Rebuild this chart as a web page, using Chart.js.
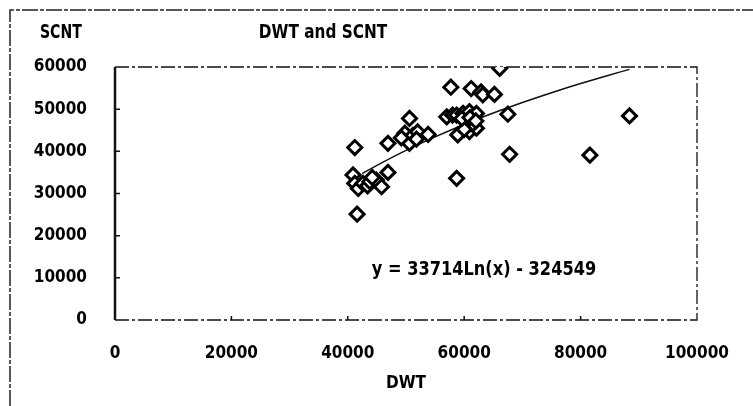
<!DOCTYPE html>
<html>
<head>
<meta charset="utf-8">
<script src="https://cdn.jsdelivr.net/npm/chart.js@4.4.1/dist/chart.umd.min.js"></script>
<style>
  html, body { margin: 0; padding: 0; background: #fff; }
</style>
</head>
<body>
<canvas id="chart" width="753" height="406"></canvas>
<script>
// DWT / SCNT points
var dwt = [
  41200, 41600, 40900, 41200, 41800, 42600, 43400, 43800, 44900, 45800, 46900, 44200,
  46900, 49800, 50600, 50600, 51200, 52000, 53800, 49200, 51800,
  57000, 58000, 58700, 59800, 60900, 62100, 58900, 60900, 62100, 61500, 60000, 59600, 61000, 62000,
  57700, 61200, 62900, 63200, 65200, 66100,
  67500, 67800, 58700, 88400, 81600
];
var scnt = [
  40900, 25100, 34400, 32400, 31200, 32400, 31800, 32800, 33200, 31600, 35000, 33800,
  41900, 44300, 47800, 41900, 43800, 44600, 44000, 43200, 42900,
  48200, 48600, 48600, 49000, 49400, 49000, 43900, 44700, 45500, 46500, 45200, 47800, 48000, 47200,
  55200, 54900, 54100, 53400, 53500, 59700,
  48800, 39300, 33600, 48400, 39100
];

// trend line as printed on the chart: y = 33714Ln(x) - 324549
var trendA = 33714;
var trendB = -324549;
var trendX = [42500, 45000, 50000, 55000, 60000, 65000, 70000, 75000, 80000, 85000, 88400];

var xTicks = [0, 20000, 40000, 60000, 80000, 100000];
var yTicks = [0, 10000, 20000, 30000, 40000, 50000, 60000];

var FONT = "'Liberation Sans Narrow', 'DejaVu Sans Condensed', 'Liberation Sans', sans-serif";

var points = [];
for (var i = 0; i < dwt.length; i++) {
  points.push({ x: dwt[i], y: scnt[i] });
}
var trend = [];
for (var j = 0; j < trendX.length; j++) {
  trend.push({ x: trendX[j], y: trendA * Math.log(trendX[j]) + trendB });
}

// condensed looking text: squeeze horizontally
function narrowText(ctx, txt, x, y, sx) {
  ctx.save();
  ctx.translate(x, y);
  ctx.scale(sx, 1);
  ctx.fillText(txt, 0, 0);
  ctx.restore();
}

// frame, tick marks and the free texts
var decor = {
  id: "decor",
  beforeDatasetsDraw: function(chart) {
    var ctx = chart.ctx;
    var a = chart.chartArea;
    var xs = chart.scales.x, ys = chart.scales.y;
    ctx.save();
    ctx.strokeStyle = "#222";
    // outer frame (scanned page edge)
    ctx.lineWidth = 1.5;
    ctx.setLineDash([16, 2, 4, 2]);
    ctx.beginPath();
    ctx.moveTo(10, chart.height);
    ctx.lineTo(10, 10);
    ctx.lineTo(chart.width, 10);
    ctx.stroke();
    // plot frame
    ctx.strokeStyle = "#111";
    ctx.lineWidth = 1.3;
    ctx.setLineDash([14, 3, 3, 3]);
    ctx.beginPath();
    ctx.moveTo(a.left, a.top);
    ctx.lineTo(a.right, a.top);
    ctx.lineTo(a.right, a.bottom);
    ctx.lineTo(a.left, a.bottom);
    ctx.stroke();
    ctx.setLineDash([]);
    ctx.lineWidth = 2.5;
    ctx.beginPath();
    ctx.moveTo(a.left, a.top);
    ctx.lineTo(a.left, a.bottom);
    ctx.stroke();
    ctx.lineWidth = 1.5;
    ctx.beginPath();
    for (var i = 1; i < yTicks.length - 1; i++) {
      var py = ys.getPixelForValue(yTicks[i]);
      ctx.moveTo(a.left, py);
      ctx.lineTo(a.left + 5, py);
    }
    for (var k = 1; k < xTicks.length - 1; k++) {
      var px = xs.getPixelForValue(xTicks[k]);
      ctx.moveTo(px, a.bottom);
      ctx.lineTo(px, a.bottom - 4);
    }
    ctx.stroke();
    ctx.restore();
  },
  afterDraw: function(chart) {
    var ctx = chart.ctx;
    var xs = chart.scales.x, ys = chart.scales.y;
    ctx.save();
    ctx.fillStyle = "#000";
    ctx.font = "bold 20px " + FONT;
    ctx.textBaseline = "middle";
    ctx.textAlign = "left";
    narrowText(ctx, "SCNT", 40, 33, 0.78);
    ctx.textAlign = "center";
    narrowText(ctx, "DWT and SCNT", 323, 33, 0.85);
    narrowText(ctx, "y = 33714Ln(x) - 324549", xs.getPixelForValue(63400), ys.getPixelForValue(11900), 0.9);
    ctx.restore();
  }
};

new Chart(document.getElementById("chart"), {
  type: "scatter",
  data: {
    datasets: [
      {
        label: "SCNT",
        data: points,
        pointStyle: "rectRot",
        pointRadius: 7,
        pointBorderWidth: 3,
        pointBorderColor: "#000",
        pointBackgroundColor: "#fff",
        showLine: false,
        order: 1
      },
      {
        label: "trend",
        data: trend,
        showLine: true,
        borderColor: "#111",
        borderWidth: 1.5,
        pointRadius: 0,
        tension: 0.3,
        order: 2
      }
    ]
  },
  options: {
    responsive: false,
    animation: false,
    layout: { padding: { left: 0, top: 67, right: 56, bottom: 0 } },
    plugins: {
      legend: { display: false },
      tooltip: { enabled: false }
    },
    scales: {
      x: {
        type: "linear",
        min: 0,
        max: 100000,
        afterBuildTicks: function(scale) {
          scale.ticks = xTicks.map(function(v) { return { value: v }; });
        },
        afterFit: function(scale) { scale.height = 86; },
        grid: { display: false, drawTicks: false },
        border: { display: false },
        ticks: {
          padding: 23,
          color: "#000",
          font: { family: FONT, size: 17, weight: "bold" },
          callback: function(v) { return String(v); }
        },
        title: {
          display: true,
          text: "DWT",
          color: "#000",
          padding: { top: 4, bottom: 12 },
          font: { family: FONT, size: 17, weight: "bold" }
        }
      },
      y: {
        type: "linear",
        min: 0,
        max: 60000,
        afterBuildTicks: function(scale) {
          scale.ticks = yTicks.map(function(v) { return { value: v }; });
        },
        afterFit: function(scale) { scale.width = 115; },
        grid: { display: false, drawTicks: false },
        border: { display: false },
        ticks: {
          padding: 28,
          color: "#000",
          font: { family: FONT, size: 17, weight: "bold" },
          callback: function(v) { return String(v); }
        }
      }
    }
  },
  plugins: [decor]
});
</script>
</body>
</html>
